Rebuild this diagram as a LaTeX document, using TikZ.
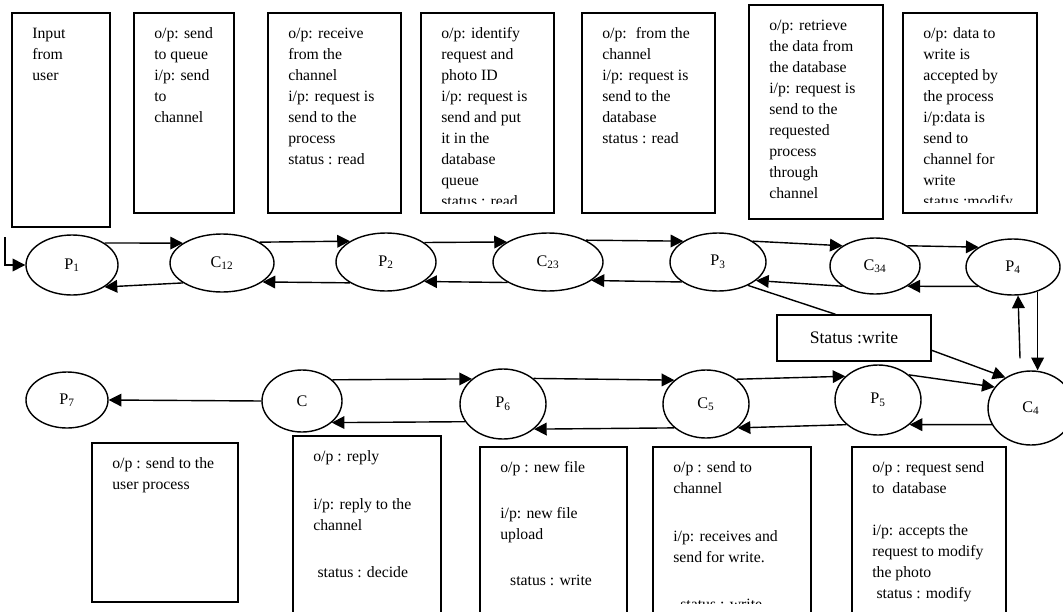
\documentclass[tikz,border=0pt]{standalone}
\usepackage{fontspec}
\setmainfont{Liberation Serif}
\usetikzlibrary{arrows.meta,shapes.geometric}
\tikzset{
  proc/.style={draw, ellipse, line width=1pt, inner sep=0pt, font=\fontsize{11.5}{14}\selectfont},
  arr/.style={line width=1pt, -{Triangle[length=9pt,width=9pt]}},
  info/.style={align=left, inner sep=0pt, anchor=north west, font=\fontsize{11.2}{14.9}\selectfont},
}
% box: name, x1, y1, x2, y2, clip bottom, text
\newcommand{\infobox}[7]{%
  \draw[line width=1pt] (#2,#3) rectangle (#4,#5);
  \begin{scope}
    \clip (#2,#3) rectangle (#4,#6);
    \node[info] (#1) at (#2+20,#3+10.5) {\strut #7};
  \end{scope}}

\begin{document}
\begin{tikzpicture}[x=0.025cm,y=-0.025cm]
    \useasboundingbox (0,0) rectangle (1063,611);
    % top row of boxes
    \infobox{t1}{12}{13}{110}{227}{227}{Input\\from\\user}
    \infobox{t2}{134}{13}{234}{213}{213}{o/p: send\\to queue\\i/p: send\\to\\channel}
    \infobox{t3}{268}{13}{401}{213}{213}{o/p: receive\\from the\\channel\\i/p: request is\\send to the\\process\\status : read}
    \infobox{t4}{421}{13}{554}{213}{203}{o/p: identify\\request and\\photo ID\\i/p: request is\\send and put\\it in the\\database\\queue\\status : read}
    \infobox{t5}{582}{13}{715}{213}{213}{o/p:~ from the\\channel\\i/p: request is\\send to the\\database\\status : read}
    \infobox{t6}{749}{5}{883}{219}{219}{o/p: retrieve\\the data from\\the database\\i/p: request is\\send to the\\requested\\process\\through\\channel}
    \infobox{t7}{903}{13}{1037}{213}{202}{o/p: data to\\write is\\accepted by\\the process\\i/p:data is\\send to\\channel for\\write\\status :modify}
    % bottom row of boxes
    \infobox{b1}{92}{443}{238}{602}{602}{o/p : send to the\\user process}
    \infobox{b2}{293}{436}{441}{625}{625}{o/p : reply\\[19pt]i/p: reply to the\\channel\\[19pt]\hspace{3pt}status : decide}
    \infobox{b3}{480}{447}{627}{625}{625}{o/p : new file\\[18pt]i/p: new file\\upload\\[18pt]\hspace{7pt}status : write}
    \infobox{b4}{653}{447}{811}{625}{603}{o/p : send to\\channel\\[19pt]i/p: receives and\\send for write.\\[19pt]\hspace{5pt}status : write}
    \infobox{b5}{852}{447}{1006}{625}{625}{o/p : request send\\to~ database\\[15pt]i/p: accepts the\\request to modify\\the photo\\\hspace{3pt}status : modify}
    % processes and channels
    \foreach \n/\x/\y/\w/\h/\t in {
      p1/72/265/92/60/P\textsubscript{1}, c12/222/263/104/58/C\textsubscript{12},
      p2/386/262/100/58/P\textsubscript{2}, c23/548/262/110/58/C\textsubscript{23},
      p3/718/262/96/58/P\textsubscript{3}, c34/875/266/90/56/C\textsubscript{34},
      p4/1013/267/94/56/P\textsubscript{4}, p7/67/400/82/56/P\textsubscript{7},
      c/302/401/80/62/C, p6/503/404/86/70/P\textsubscript{6},
      c5/706/404/86/68/C\textsubscript{5}, p5/878/400/86/70/P\textsubscript{5},
      c4/1031/408/86/74/C\textsubscript{4}}{
    \node[proc, minimum width=\w*0.025cm, minimum height=\h*0.025cm] (\n) at (\x,\y) {\t};
    }
    \node[draw, line width=1pt, minimum width=3.85cm, minimum height=1.15cm,
      font=\fontsize{12.5}{15}\selectfont] (status) at (854,338) {Status :write};
    % message arrows
    \foreach \a/\b in {p1.34/c12.153, c12.207/p1.326, c12.29/p2.150, p2.210/c12.335,
      p2.27/c23.154, c23.207/p2.333, c23.30/p3.149, p3.209/c23.337,
      p3.31/c34.148, c34.212/p3.334, c34.32/p4.150, p4.209/c34.328,
      c4.203/p5.322, p5.39/c4.150, c5.39/p5.144, p5.218/c5.323,
      p6.40/c5.143, c5.217/p6.321, c.35/p6.141, p6.205/c.324,
      c.west/p7.east, status.-9/c4.130}{
    \draw[arr] (\a) -- (\b);
    }
    \draw[arr] (p4.315) -- (p4.315 |- c4.north);
    \draw[arr] ([shift={(-11,-12)}]c4.north) -- (p4.280);
    \draw[line width=1pt] (status.128) -- (p3.322);
    \coordinate (inp) at (5,237);
    \draw[arr] (inp) |- (p1.west);
\end{tikzpicture}
\end{document}
